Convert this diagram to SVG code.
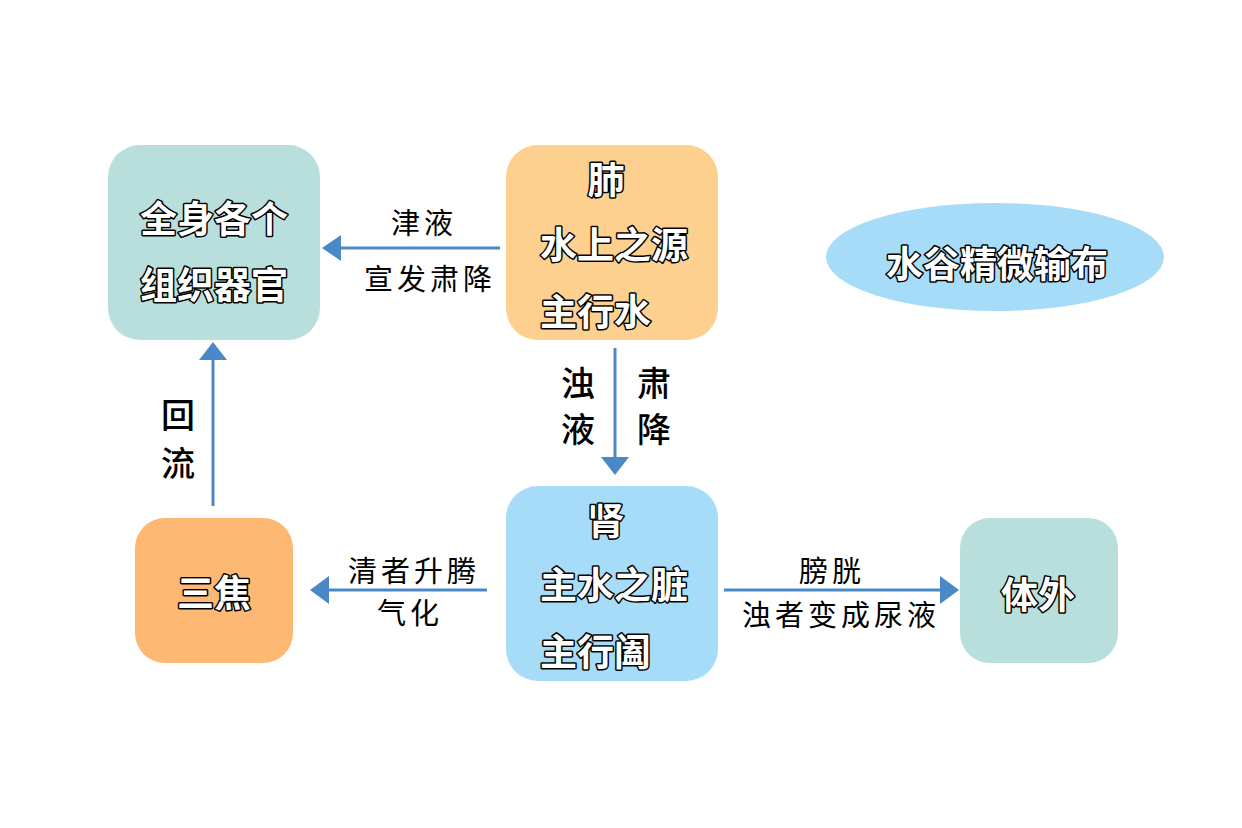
<svg xmlns="http://www.w3.org/2000/svg" width="1242" height="828" viewBox="0 0 1242 828">
<style>
.nt{font-family:"Noto Sans CJK SC","Noto Sans",sans-serif;font-weight:bold;font-size:37px;fill:#fff;stroke:#000;stroke-width:3px;paint-order:stroke;stroke-linejoin:round;dominant-baseline:central}
.lb{font-family:"Noto Sans CJK SC","Noto Sans",sans-serif;font-size:29px;fill:#000;dominant-baseline:central;letter-spacing:4px}
.vl{font-family:"Noto Sans CJK SC","Noto Sans",sans-serif;font-size:34px;fill:#000;dominant-baseline:central;text-anchor:middle;font-weight:500}
.ln{stroke:#4a88c7;stroke-width:3;fill:none}
.ah{fill:#4a88c7}
</style>
<rect width="1242" height="828" fill="#fff"/>
<g id="connectors">
<line class="ln" x1="500" y1="248" x2="338" y2="248"/><polygon class="ah" points="322,248 341,235 341,261"/>
<line class="ln" x1="615" y1="348" x2="615" y2="460"/><polygon class="ah" points="615,475 601,457 629,457"/>
<line class="ln" x1="213" y1="506" x2="213" y2="358"/><polygon class="ah" points="213,342 199,360 227,360"/>
<line class="ln" x1="487" y1="590" x2="326" y2="590"/><polygon class="ah" points="310,590 329,576 329,604"/>
<line class="ln" x1="724" y1="590" x2="943" y2="590"/><polygon class="ah" points="959,590 940,576 940,604"/>
<text class="lb" x="424" y="221" text-anchor="middle">津液</text>
<text class="lb" x="430" y="277" text-anchor="middle">宣发肃降</text>
<text class="vl" x="578" y="381">浊</text>
<text class="vl" x="578" y="427">液</text>
<text class="vl" x="654" y="381">肃</text>
<text class="vl" x="654" y="427">降</text>
<text class="vl" x="178" y="413">回</text>
<text class="vl" x="178" y="461">流</text>
<text class="lb" x="414" y="569" text-anchor="middle">清者升腾</text>
<text class="lb" x="410" y="611" text-anchor="middle">气化</text>
<text class="lb" x="832" y="569" text-anchor="middle">膀胱</text>
<text class="lb" x="841" y="613" text-anchor="middle">浊者变成尿液</text>
</g>
<g id="node-quanshen">
<rect x="108" y="145" width="212" height="195" rx="32" fill="#b9dfdd"/>
<text class="nt" x="214" y="217" text-anchor="middle">全身各个</text>
<text class="nt" x="214" y="283" text-anchor="middle">组织器官</text>
</g>
<g id="node-fei">
<rect x="506" y="145" width="212" height="195" rx="32" fill="#fdd08f"/>
<text class="nt" x="606" y="178" text-anchor="middle">肺</text>
<text class="nt" x="540" y="243">水上之源</text>
<text class="nt" x="540" y="310">主行水</text>
</g>
<g id="node-shuigu">
<ellipse cx="995" cy="257" rx="169" ry="54" fill="#a6dcf7"/>
<text class="nt" x="997" y="262" text-anchor="middle">水谷精微输布</text>
</g>
<g id="node-shen">
<rect x="506" y="486" width="212" height="195" rx="32" fill="#a6dcf7"/>
<text class="nt" x="606" y="519" text-anchor="middle">肾</text>
<text class="nt" x="540" y="583">主水之脏</text>
<text class="nt" x="540" y="650">主行阖</text>
</g>
<g id="node-sanjiao">
<rect x="135" y="518" width="158" height="145" rx="30" fill="#fdb873"/>
<text class="nt" x="214" y="591" text-anchor="middle">三焦</text>
</g>
<g id="node-tiwai">
<rect x="960" y="518" width="158" height="145" rx="30" fill="#b9dfdd"/>
<text class="nt" x="1038" y="593" text-anchor="middle">体外</text>
</g>
</svg>
